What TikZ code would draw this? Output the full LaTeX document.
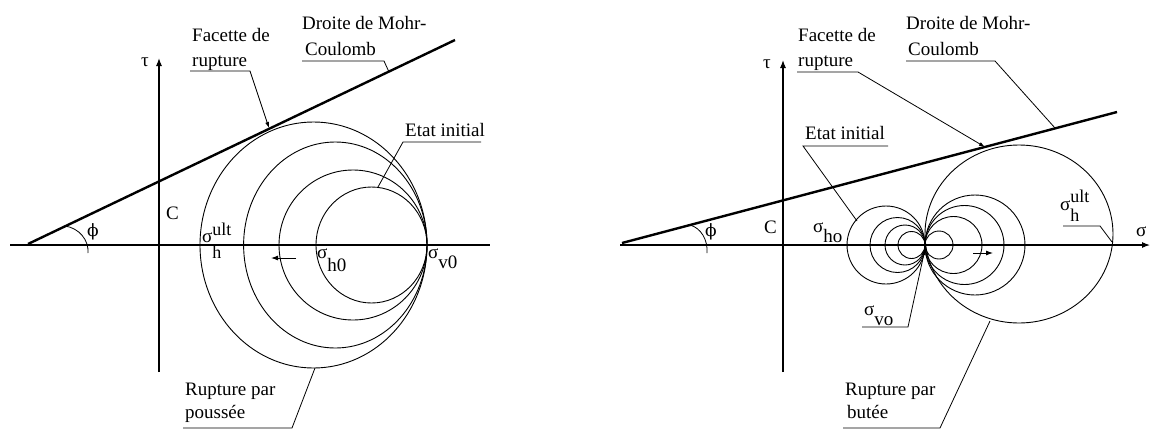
\documentclass[tikz,border=0pt]{standalone}
\usepackage{fontspec}
\setmainfont{Liberation Serif}
\newfontfamily\dvs{DejaVu Serif}
\usetikzlibrary{arrows.meta}
\begin{document}
\begin{tikzpicture}[x=1pt,y=-1pt,
  lbl/.style={font=\fontsize{19}{22}\selectfont, inner sep=0pt, anchor=base west},
  phil/.style={font=\dvs\fontsize{17}{17}\selectfont, inner sep=0pt},
  axis/.style={line width=1.1pt},
  axisarrow/.style={line width=1.1pt,-{Latex[length=8pt,width=6pt]}},
  circ/.style={line width=0.9pt},
  mohr/.style={line width=2.4pt},
  lead/.style={line width=0.8pt},
  tipl/.style={line width=0.8pt,-{Latex[length=6pt,width=4pt]}},
  push/.style={line width=0.9pt,-{Latex[length=7pt,width=5pt]}}
]
\useasboundingbox (0,0) rectangle (1154,429);
\fill[white] (0,0) rectangle (1154,429);

% ================= LEFT DIAGRAM =================
\coordinate (Lx1) at (10,245);
\coordinate (Lx2) at (490,245);
\draw[axis] (Lx1) -- (Lx2);
\coordinate (Ly1) at (159,372);
\coordinate (Ly2) at (159,58);
\draw[axisarrow] (Ly1) -- (Ly2);
\node[lbl] (Ltau) at (141,66) {τ};

\coordinate (LmA) at (28,244);
\coordinate (LmB) at (455,40);
\draw[mohr] (LmA) -- (LmB);

\coordinate (Lph1) at (65,226);
\coordinate (Lph2) at (88,253);
\draw[lead] (Lph1) .. controls (79,228) and (89,240) .. (Lph2);
\node[phil] (Lphi) at (93,232) {ϕ};
\node[lbl] (LC) at (166,219) {C};

\draw[circ] (313.5,245) ellipse [x radius=113.5pt, y radius=123pt];
\draw[circ] (335.3,245) ellipse [x radius=91.7pt, y radius=103pt];
\draw[circ] (353,245) ellipse [x radius=74pt, y radius=75pt];
\draw[circ] (371.5,245) ellipse [x radius=55.5pt, y radius=58pt];

\node[lbl] (Lsu) at (202,242) {σ\rlap{\raisebox{7pt}{\fontsize{18}{18}\selectfont ult}}\raisebox{-16pt}{\fontsize{18}{18}\selectfont h}};
\node[lbl] (Lsh) at (317,258) {σ\raisebox{-13pt}{h0}};
\node[lbl] (Lsv) at (428,258) {σ\raisebox{-10pt}{v0}};

\coordinate (Lar1) at (296,258);
\coordinate (Lar2) at (271,258);
\draw[push] (Lar1) -- (Lar2);

% labels
\node[lbl] (Lfa1) at (192,41) {Facette de};
\node[lbl] (Lfa2) at (192,66) {rupture};
\coordinate (Lfu1) at (190,71);
\coordinate (Lfu2) at (250,71);
\coordinate (Lft) at (269,128);
\draw[tipl] (Lfu1) -- (Lfu2) -- (Lft);

\node[lbl] (Ldr1) at (302,29) {Droite de Mohr-};
\node[lbl] (Ldr2) at (305,55) {Coulomb};
\coordinate (Ldu1) at (302,61);
\coordinate (Ldu2) at (384,61);
\coordinate (Ldt) at (389,72);
\draw[lead] (Ldu1) -- (Ldu2) -- (Ldt);

\node[lbl] (Let) at (405,136) {Etat initial};
\coordinate (Leu1) at (481,142);
\coordinate (Leu2) at (403,142);
\coordinate (Let2) at (378,187);
\draw[lead] (Leu1) -- (Leu2) -- (Let2);

\node[lbl] (Lru1) at (185,395) {Rupture par};
\node[lbl] (Lru2) at (185,418) {poussée};
\coordinate (Lru3) at (183,428);
\coordinate (Lru4) at (292,428);
\coordinate (Lrt) at (315,368);
\draw[lead] (Lru3) -- (Lru4) -- (Lrt);

% ================= RIGHT DIAGRAM =================
\coordinate (Rx1) at (620,245);
\coordinate (Rx2) at (1150,245);
\draw[axisarrow] (Rx1) -- (Rx2);
\node[lbl] (Rsig) at (1136,236) {σ};
\coordinate (Ry1) at (783,372);
\coordinate (Ry2) at (783,60);
\draw[axisarrow] (Ry1) -- (Ry2);
\node[lbl] (Rtau) at (763,68) {τ};

\coordinate (RmA) at (622,243);
\coordinate (RmB) at (1117,112);
\draw[mohr] (RmA) -- (RmB);

\coordinate (Rph1) at (690,225);
\coordinate (Rph2) at (707,253);
\draw[lead] (Rph1) .. controls (701,228) and (708,240) .. (Rph2);
\node[phil] (Rphi) at (711,232) {ϕ};
\node[lbl] (RC) at (764,233) {C};

% left small circles
\draw[circ] (886,245) circle [radius=39pt];
\draw[circ] (897.5,245) circle [radius=27.5pt];
\draw[circ] (905,245) circle [radius=20pt];
\draw[circ] (911.5,245) circle [radius=13.5pt];
% right circles
\draw[circ] (939,245) circle [radius=14pt];
\draw[circ] (953.5,245) circle [radius=28.5pt];
\draw[circ] (964.5,245) circle [radius=39.5pt];
\draw[circ] (975,245) circle [radius=50pt];
\draw[circ] (1019,234) ellipse [x radius=94pt, y radius=89pt];

\coordinate (Rar1) at (973,253);
\coordinate (Rar2) at (993,253);
\draw[push] (Rar1) -- (Rar2);

\node[lbl] (Rsho) at (813,232) {σ\raisebox{-10pt}{ho}};

\node[lbl] (Rsvo) at (864,315) {σ\raisebox{-10pt}{vo}};
\coordinate (Rvu1) at (862,327);
\coordinate (Rvu2) at (908,327);
\coordinate (Rvt) at (925,249);
\draw[tipl] (Rvu1) -- (Rvu2) -- (Rvt);

\node[lbl] (Rsu) at (1060,210) {σ\rlap{\raisebox{8pt}{\fontsize{18}{18}\selectfont ult}}\raisebox{-11pt}{\fontsize{18}{18}\selectfont h}};
\coordinate (Rsu1) at (1063,226);
\coordinate (Rsu2) at (1100,226);
\coordinate (Rst) at (1112,242);
\draw[lead] (Rsu1) -- (Rsu2) -- (Rst);

\node[lbl] (Ret) at (805,139) {Etat initial};
\coordinate (Reu1) at (888,146);
\coordinate (Reu2) at (803,146);
\coordinate (Ret2) at (857,221);
\draw[lead] (Reu1) -- (Reu2) -- (Ret2);

\node[lbl] (Rfa1) at (798,41) {Facette de};
\node[lbl] (Rfa2) at (798,66) {rupture};
\coordinate (Rfu1) at (797,72);
\coordinate (Rfu2) at (858,72);
\coordinate (Rft) at (985,147);
\draw[tipl] (Rfu1) -- (Rfu2) -- (Rft);

\node[lbl] (Rdr1) at (906,29) {Droite de Mohr-};
\node[lbl] (Rdr2) at (908,55) {Coulomb};
\coordinate (Rdu1) at (906,61);
\coordinate (Rdu2) at (995,61);
\coordinate (Rdt) at (1055,128);
\draw[lead] (Rdu1) -- (Rdu2) -- (Rdt);

\node[lbl] (Rru1) at (845,395) {Rupture par};
\node[lbl] (Rru2) at (847,418) {butée};
\coordinate (Rru3) at (843,428);
\coordinate (Rru4) at (940,428);
\coordinate (Rrt) at (990,321);
\draw[lead] (Rru3) -- (Rru4) -- (Rrt);
\end{tikzpicture}
\end{document}
